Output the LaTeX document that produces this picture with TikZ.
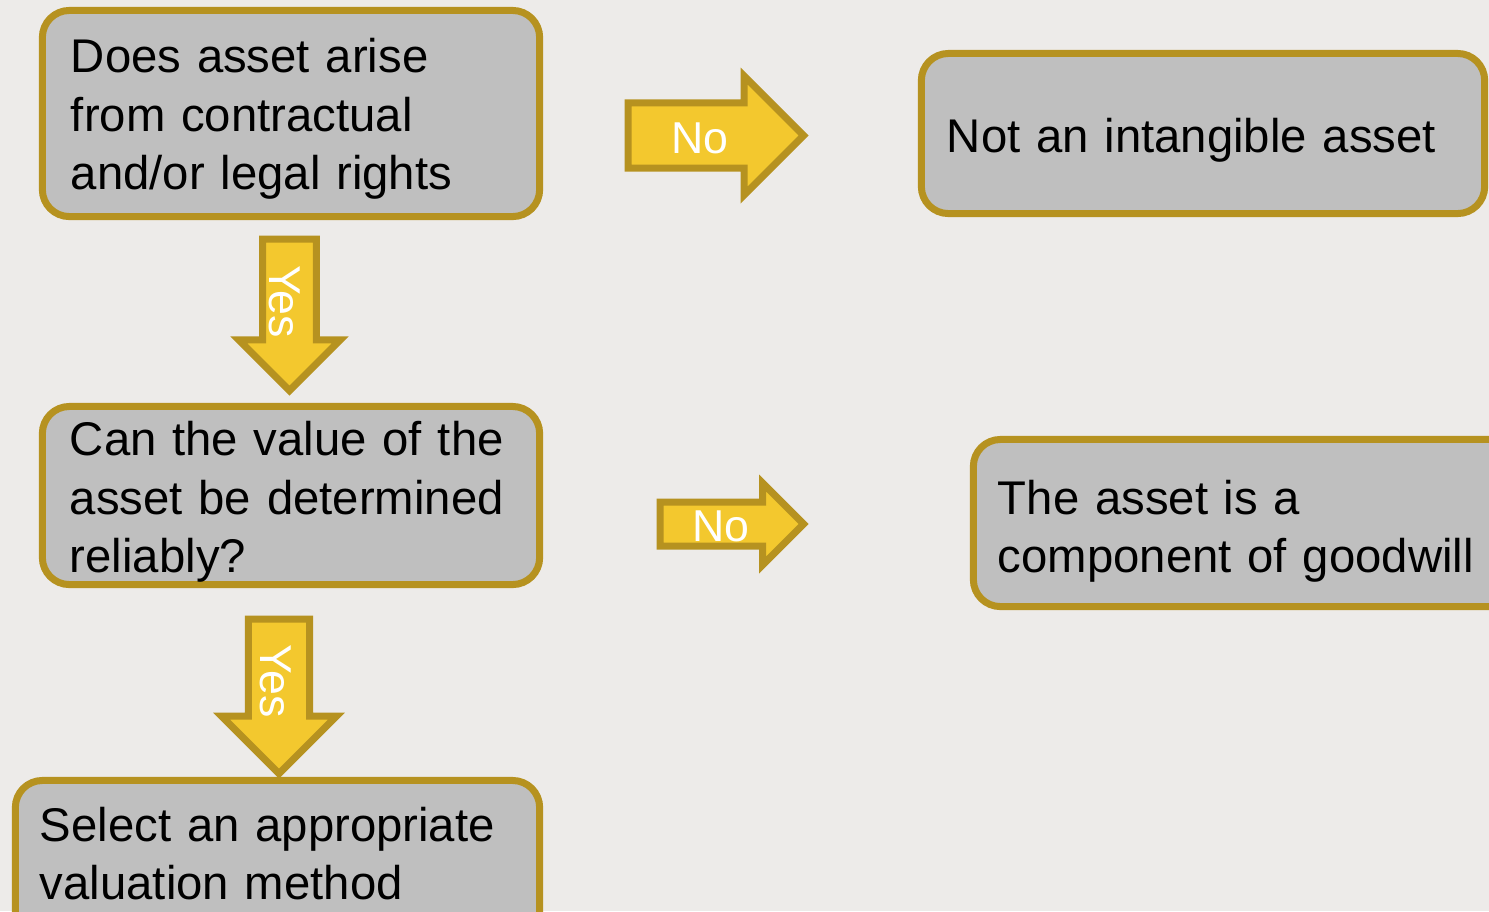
\documentclass[tikz,border=0pt]{standalone}
\usepackage{fontspec}
\setmainfont{Liberation Sans}
\usetikzlibrary{shapes.arrows}

\definecolor{bgGrey}{RGB}{237,235,233}
\definecolor{boxGrey}{RGB}{191,191,191}
\definecolor{goldLine}{RGB}{182,146,32}
\definecolor{arrowYellow}{RGB}{243,200,46}

\tikzset{
    question/.style = {draw=goldLine, fill=boxGrey, line width=0.07cm,
        rounded corners=0.27cm, align=left, inner sep=0pt, text=black,
        font=\fontsize{13.45pt}{16.5pt}\selectfont},
    bigarrow/.style = {single arrow, draw=goldLine, fill=arrowYellow,
        line width=0.07cm, inner sep=0pt, anchor=tail, text=white,
        font=\fontsize{12.7pt}{15pt}\selectfont},
}

\begin{document}
\begin{tikzpicture}[x=0.01cm, y=-0.01cm]
    \useasboundingbox (0,0) rectangle (1489,911);
    \fill[bgGrey] (0,0) rectangle (1489,911);
    \clip (0,0) rectangle (1489,911);

    % boxes
    \node[question, minimum width=4.97cm, minimum height=2.06cm, text width=4.40cm,
        text height=0.30cm, text depth=1.11cm] (doesAsset) at (291,113.5)
        {Does asset arise\\from contractual\\and/or legal rights};
    \node[question, minimum width=5.63cm, minimum height=1.60cm, text width=5.12cm,
        text height=0.40cm, text depth=0.03cm] (notIntangible) at (1203,133.5)
        {Not an intangible asset};
    \node[question, minimum width=4.97cm, minimum height=1.78cm, text width=4.42cm,
        text height=0.30cm, text depth=1.09cm] (canValue) at (291,495.5)
        {Can the value of the\\asset be determined\\reliably?};
    \node[question, minimum width=5.565cm, minimum height=1.67cm, text width=5.075cm,
        text height=0.30cm, text depth=0.48cm] (goodwill) at (1251.75,523)
        {The asset is a\\component of goodwill};
    \node[question, minimum width=5.24cm, minimum height=1.795cm, text width=4.75cm,
        text height=0.30cm, text depth=0.885cm] (selectMethod) at (277.5,870.25)
        {Select an appropriate\\valuation method};

    % arrows
    \node[bigarrow, minimum height=1.755cm, single arrow head extend=0.27cm,
        text height=0.465cm, text depth=0.115cm] (noFirst) at (624.5,135.5) {No};
    \node[bigarrow, minimum height=1.435cm, single arrow head extend=0.19cm,
        text height=0.355cm, text depth=0.015cm] (noSecond) at (656.5,524) {No};
    \node[bigarrow, rotate=-90, minimum height=1.515cm, single arrow head extend=0.24cm,
        text height=0.43cm, text depth=0.035cm] (yesFirst) at (289.5,235.5) {Yes};
    \node[bigarrow, rotate=-90, minimum height=1.545cm, single arrow head extend=0.27cm,
        text height=0.45cm, text depth=0.09cm] (yesSecond) at (279,615.5) {Yes};
\end{tikzpicture}
\end{document}
